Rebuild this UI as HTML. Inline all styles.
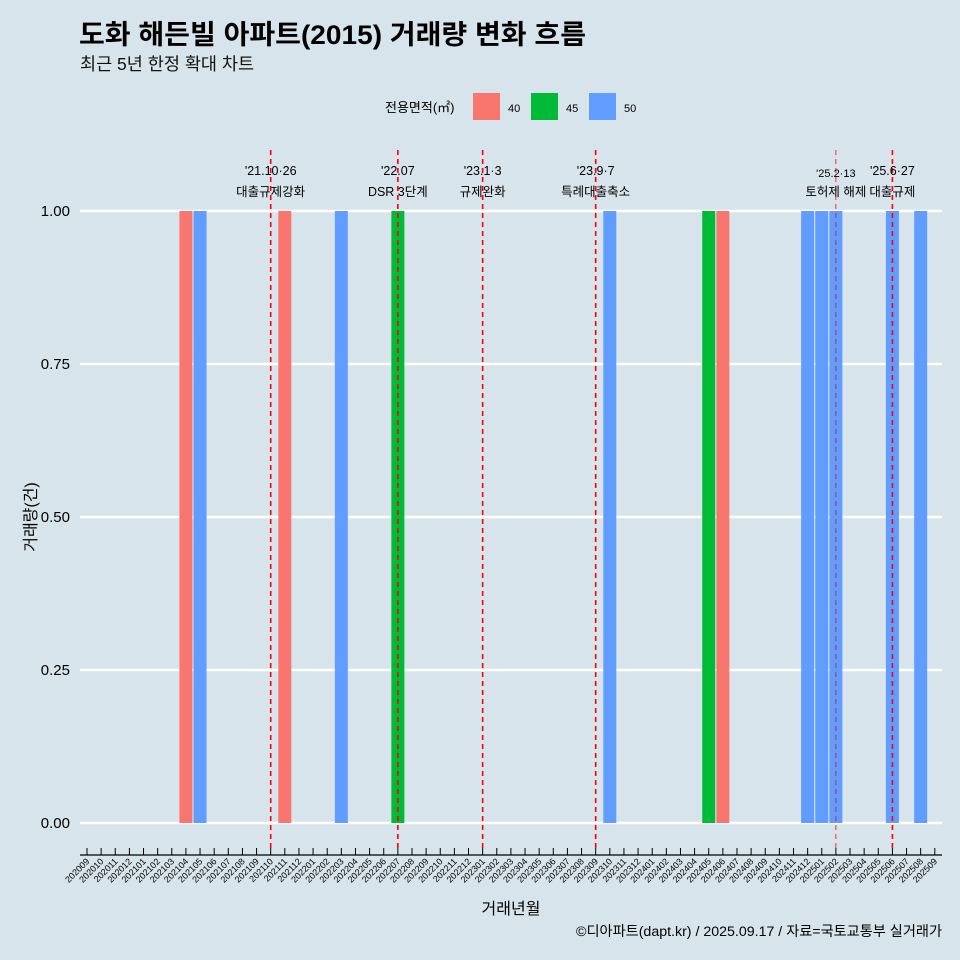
<!DOCTYPE html>
<html><head><meta charset="utf-8"><style>
body{margin:0;background:#d7e4eb;}
svg{display:block;font-family:"Liberation Sans","Noto Sans CJK KR",sans-serif;}
</style></head><body>
<svg id="c" width="960" height="960">
<rect width="960" height="960" fill="#d7e4eb"/>
<text x="79" y="44" font-size="27" font-weight="bold" fill="#000" textLength="507" lengthAdjust="spacingAndGlyphs">도화 해든빌 아파트(2015) 거래량 변화 흐름</text>
<text x="80" y="70" font-size="17.5" fill="#111">최근 5년 한정 확대 차트</text>
<g>
<text x="385" y="112" font-size="13">전용면적(㎡)</text>
<rect x="473" y="93" width="27" height="27" fill="#F8766D"/>
<text x="508" y="112" font-size="11">40</text>
<rect x="531" y="93" width="27" height="27" fill="#00BA38"/>
<text x="566" y="112" font-size="11">45</text>
<rect x="589" y="93" width="27" height="27" fill="#619CFF"/>
<text x="624" y="112" font-size="11">50</text>
</g>
<g id="plot"></g>
<text x="36" y="517" font-size="16" text-anchor="middle" transform="rotate(-90 36 517)">거래량(건)</text>
<text x="511" y="914" font-size="16" text-anchor="middle">거래년월</text>
<text x="942" y="936" font-size="14.2" text-anchor="end">©디아파트(dapt.kr) / 2025.09.17 / 자료=국토교통부 실거래가</text>
</svg>
<script>
const months=[];
for(let y=2020,m=9;!(y===2025&&m===10);){months.push(''+y+(m<10?'0':'')+m);m++;if(m>12){m=1;y++;}}
const barMonths=['202104','202105','202111','202203','202207','202310','202405','202406','202412','202501','202502','202506','202508'];
const barAreas=['40','50','40','50','45','50','45','40','50','50','50','50','50'];
const barValues=[1,1,1,1,1,1,1,1,1,1,1,1,1];
const yTicks=[0,0.25,0.5,0.75,1];
const yTickLabels=['0.00','0.25','0.50','0.75','1.00'];
const eventMonths=['202110','202207','202301','202309','202502','202506'];
const eventDates=["'21.10·26","'22.07","'23.1·3","'23.9·7","'25.2·13","'25.6·27"];
const eventNames=['대출규제강화','DSR 3단계','규제완화','특례대출축소','토허제 해제','대출규제'];
const colors={'40':'#F8766D','45':'#00BA38','50':'#619CFF'};
const NS='http://www.w3.org/2000/svg';
const g=document.getElementById('plot');
const x=m=>87+14.13*months.indexOf(m);
const y=v=>823-612*v;
function el(t,a){const e=document.createElementNS(NS,t);for(const k in a)e.setAttribute(k,a[k]);g.appendChild(e);return e;}
yTicks.forEach((v,i)=>{
 const l=el('line',{x1:80,x2:942,y1:y(v),y2:y(v),stroke:'#fff','stroke-width':2.5});
 
 
 const t=el('text',{x:70,y:y(v)+5,'font-size':15,'text-anchor':'end'});t.textContent=yTickLabels[i];
 
 
});
barMonths.forEach((m,i)=>{
 const r=el('rect',{x:x(m)-6.5,y:y(barValues[i]),width:13,height:y(0)-y(barValues[i]),fill:colors[barAreas[i]]});
 
 
});
const ax=el('line',{x1:80,x2:942,y1:855,y2:855,stroke:'#000','stroke-width':1.2});


months.forEach(m=>{
 const tk=el('line',{x1:x(m),x2:x(m),y1:848,y2:855,stroke:'#000','stroke-width':1});
 
 
 const t=el('text',{x:x(m)+3,y:862,'font-size':9,'text-anchor':'end',transform:`rotate(-45 ${x(m)+3} 862)`});t.textContent=m;
 
 
});
eventMonths.forEach((m,i)=>{
 const thin=m==='202502';
 const l=el('line',{x1:x(m),x2:x(m),y1:150,y2:850,stroke:'#f00','stroke-width':thin?1:1.6,'stroke-dasharray':'5,4','stroke-opacity':thin?0.8:1});
 
 
 const d=el('text',{x:x(m),y:thin?177:175,'font-size':thin?11:12.5,'text-anchor':'middle'});d.textContent=eventDates[i];
 
 
 const n=el('text',{x:x(m),y:196,'font-size':12.5,'text-anchor':'middle'});n.textContent=eventNames[i];
 
 
});
</script>
</body></html>
